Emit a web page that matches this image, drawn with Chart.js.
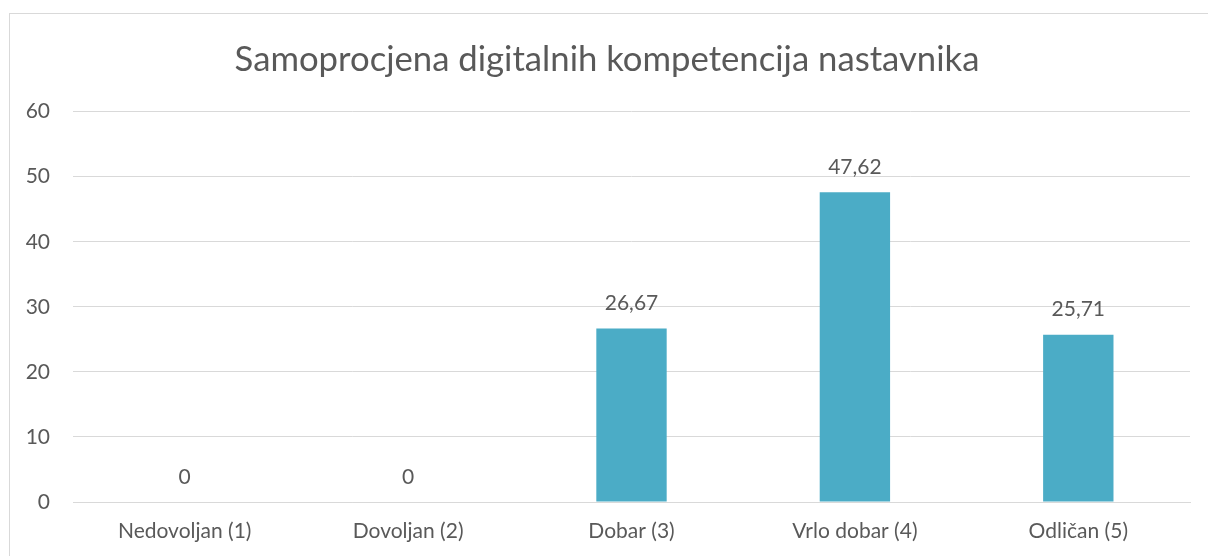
<!DOCTYPE html>
<html>
<head>
<meta charset="utf-8">
<script src="https://cdn.jsdelivr.net/npm/chart.js@4.4.0/dist/chart.umd.min.js"></script>
<style>
  html, body { margin: 0; padding: 0; background: #fff; }
  #wrap { position: relative; width: 1208px; height: 556px; overflow: hidden; }
  #frame { position: absolute; left: 9px; top: 13px; width: 1200px; height: 560px; border: 1px solid #d9d9d9; box-sizing: border-box; }
  canvas { position: absolute; left: 0; top: 0; }
</style>
</head>
<body>
<div id="wrap">
  <div id="frame"></div>
  <canvas id="graph" width="1208" height="556"></canvas>
</div>
<script>
/* ---------- données ---------- */
const categories = ["Nedovoljan (1)", "Dovoljan (2)", "Dobar (3)", "Vrlo dobar (4)", "Odličan (5)"];
const values = [0, 0, 26.67, 47.62, 25.71];
const chartTitle = "Samoprocjena digitalnih kompetencija nastavnika";

const textColor = "#595959";
const fontFamily = "Lato, 'Open Sans', sans-serif";

/* ---------- étiquettes de valeurs ---------- */
const valueLabels = {
    id: "valueLabels",
    afterDatasetsDraw(chart) {
        const ctx = chart.ctx;
        const meta = chart.getDatasetMeta(0);
        ctx.save();
        ctx.font = "21px " + fontFamily;
        ctx.fillStyle = textColor;
        ctx.textAlign = "center";
        ctx.textBaseline = "middle";
        meta.data.forEach((bar, i) => {
            const txt = String(values[i]).replace(".", ",");
            ctx.fillText(txt, bar.x, bar.y - 25);
        });
        ctx.restore();
    }
};

const ctx = document.getElementById("graph").getContext("2d");

const myChart = new Chart(ctx, {
    type: "bar",
    data: {
        labels: categories,
        datasets: [{
            data: values,
            backgroundColor: "#4bacc6",
            borderWidth: 0,
            barPercentage: 0.63,
            categoryPercentage: 0.5
        }]
    },
    options: {
        responsive: false,
        animation: false,
        layout: { padding: { top: 0, right: 18, bottom: 0, left: 24 } },
        plugins: {
            legend: { display: false },
            tooltip: { enabled: false },
            title: {
                display: true,
                text: chartTitle,
                color: textColor,
                font: { family: fontFamily, size: 34.7, weight: "normal" },
                padding: { top: 39, bottom: 31 }
            }
        },
        scales: {
            x: {
                grid: { display: false, drawTicks: false },
                border: { color: "#d9d9d9", width: 1 },
                ticks: { color: textColor, font: { family: fontFamily, size: 21 }, padding: 17 },
                afterFit: s => { s.height = 54; }
            },
            y: {
                min: 0,
                max: 60,
                ticks: { stepSize: 10, color: textColor, font: { family: fontFamily, size: 21 }, padding: 23 },
                grid: { color: "#d9d9d9", drawTicks: false },
                border: { display: false },
                afterFit: s => { s.width = 49; }
            }
        }
    },
    plugins: [valueLabels]
});
</script>
</body>
</html>
